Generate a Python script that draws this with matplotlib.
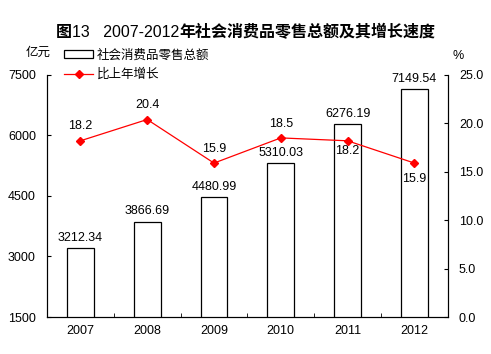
import matplotlib
matplotlib.use("Agg")
import matplotlib.pyplot as plt
from matplotlib.patches import Patch
from matplotlib.lines import Line2D

plt.rcParams['font.family'] = ['Liberation Sans', 'Noto Sans CJK SC']

years = ['2007', '2008', '2009', '2010', '2011', '2012']
sales = [3212.34, 3866.69, 4480.99, 5310.03, 6276.19, 7149.54]
growth = [18.2, 20.4, 15.9, 18.5, 18.2, 15.9]
# label offset in points: above (+) or below (-) the marker
growth_off = [6, 6, 6, 6, -3, -7]

fig = plt.figure(figsize=(4.91, 3.54), dpi=100)
ax = fig.add_axes([0.0957, 0.1045, 0.8163, 0.6837])
x = list(range(len(years)))

ax.bar(x, sales, width=0.4, bottom=0, color='white', edgecolor='black', linewidth=0.9)
ax.set_ylim(1500, 7500)
ax.set_xlim(-0.5, 5.5)
ax.set_yticks([1500, 3000, 4500, 6000, 7500])
ax.set_xticks(x)
ax.set_xticklabels(years)
ax.set_xticks([i + 0.5 for i in range(-1, 6)], minor=True)
ax.tick_params(axis='x', which='major', length=0, labelsize=9, pad=6)
ax.tick_params(axis='x', which='minor', direction='in', length=3)
ax.tick_params(axis='y', direction='in', length=3, labelsize=9, pad=8)
ax.spines['top'].set_visible(False)
for i, v in enumerate(sales):
    ax.annotate(f'{v:.2f}', (i, v), xytext=(0, 3), textcoords='offset points',
                ha='center', va='bottom', fontsize=9)

ax2 = ax.twinx()
ax2.plot(x, growth, color='red', linewidth=0.9, marker='D', markersize=4)
ax2.set_ylim(0, 25)
ax2.set_yticks([0, 5, 10, 15, 20, 25])
ax2.set_yticklabels([f'{v:.1f}' for v in [0, 5, 10, 15, 20, 25]])
ax2.tick_params(axis='y', direction='in', length=3, labelsize=9, pad=8)
ax2.spines['top'].set_visible(False)
for i, (v, o) in enumerate(zip(growth, growth_off)):
    ax2.annotate(f'{v}', (i, v), xytext=(0, o), textcoords='offset points',
                 ha='center', va='bottom' if o > 0 else 'top', fontsize=9)

# title: bold CJK, regular numbers
parts = [('图', 'bold'), ('13   2007-2012', 'normal'),
         ('年社会消费品零售总额及其增长速度', 'bold')]
renderer = fig.canvas.get_renderer()
texts = [fig.text(0, 0.908, s, ha='left', va='center', fontsize=11.5, fontweight=w)
         for s, w in parts]
widths = [t.get_window_extent(renderer).width for t in texts]
x0 = (fig.bbox.width - sum(widths)) / 2
for t, w in zip(texts, widths):
    t.set_x(x0 / fig.bbox.width)
    x0 += w

fig.text(0.052, 0.852, '亿元', ha='left', va='center', fontsize=9)
fig.text(0.922, 0.842, '%', ha='left', va='center', fontsize=9)

handles = [Patch(facecolor='white', edgecolor='black', linewidth=0.9),
           Line2D([0], [0], color='red', linewidth=0.9, marker='D', markersize=4)]
fig.legend(handles, ['社会消费品零售总额', '比上年增长'], loc='upper left',
           bbox_to_anchor=(0.113, 0.885), frameon=False, fontsize=9,
           handlelength=2.3, handleheight=0.6, labelspacing=0.55,
           handletextpad=0.3, borderpad=0.2)

plt.savefig('out.png', dpi=100)
